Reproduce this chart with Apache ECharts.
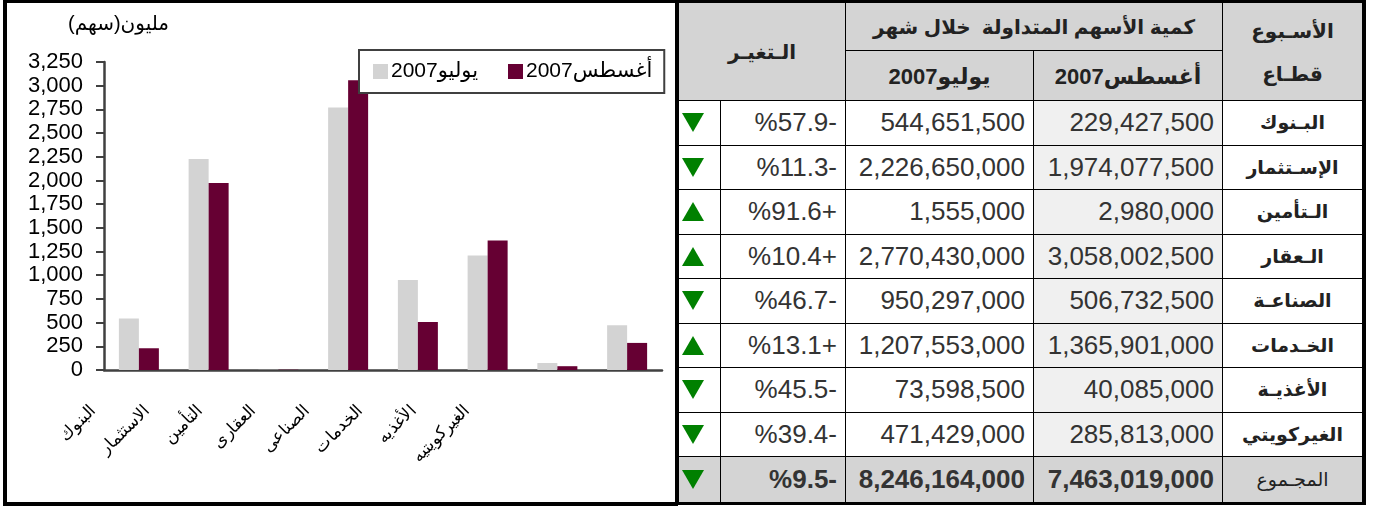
<!DOCTYPE html>
<html>
<head>
<meta charset="utf-8">
<script src="https://cdn.jsdelivr.net/npm/echarts/dist/echarts.min.js"></script>
<style>
  html, body { margin: 0; padding: 0; background: #fff; }
  body { position: relative; width: 1375px; height: 506px; overflow: hidden; font-family: "Liberation Sans", Arial, "DejaVu Sans", sans-serif; }
  #chart { position: absolute; left: 0; top: 0; width: 678px; height: 506px; }
  #frame { position: absolute; left: 3px; top: 0; width: 675px; height: 506px; box-sizing: border-box; border: solid #000; border-width: 3px 3px 4px 4px; pointer-events: none; }
  #tbl { position: absolute; left: 676px; top: 0; display: grid; gap: 1px; background: #000; border: solid #000; border-width: 3px 4px 3px 3px;
         grid-template-columns: 41px 124px 187px 188px 139px;
         grid-template-rows: 47px 49px repeat(8, 43.5px) 45px; }
  #tbl > div { background: #fff; display: flex; align-items: center; justify-content: flex-end; padding: 0 8px 0 0; color: #333; font-size: 26px; direction: ltr; white-space: pre; }
  #tbl > div.hd { background: #d4d4d4; justify-content: center; padding: 0; font-weight: bold; font-size: 20px; color: #222; }
  #tbl > div.hd.yr { font-size: 22px; padding-top: 2px; }
  #tbl > div.aug { background: #f0f0f0; }
  #tbl > div.sec { justify-content: center; padding: 0; font-weight: bold; font-size: 19px; color: #222; }
  #tbl > div.arw { justify-content: flex-start; padding: 0 0 0 3px; }
  #tbl > div.tot { background: #d4d4d4; font-weight: bold; }
  #tbl > div.two { flex-direction: column; justify-content: space-around; padding: 6px 0 4px; }
  .dn { width: 0; height: 0; border-left: 11px solid transparent; border-right: 11px solid transparent; border-top: 19px solid #008000; }
  .up { width: 0; height: 0; border-left: 11px solid transparent; border-right: 11px solid transparent; border-bottom: 19px solid #008000; }
</style>
</head>
<body>
<div id="chart"></div>
<div id="frame"></div>
<div id="tbl"></div>
<script>
// chart categories (x axis) and table sector names
const categories = ['البنوك', 'الاستثمار', 'التأمين', 'العقارى', 'الصناعى', 'الخدمات', 'الأغذيه', 'الغيركويتيه'];
const sectorNames = ['البـنوك', 'الإسـتثمار', 'الـتأمين', 'الـعقار', 'الصناعـة', 'الخـدمات', 'الأغذيـة', 'الغيركويتي'];
const seriesNames = ['يوليو2007', 'أغسطس2007'];

// traded shares per month
const julyShares = [544651500, 2226650000, 1555000, 2770430000, 950297000, 1207553000, 73598500, 471429000];
const augustShares = [229427500, 1974077500, 2980000, 3058002500, 506732500, 1365901000, 40085000, 285813000];
const changePct = [-57.9, -11.3, 91.6, 10.4, -46.7, 13.1, -45.5, -39.4];

const julyTotal = 8246164000;
const augustTotal = 7463019000;
const totalChangePct = -9.5;

const FONT = '"Liberation Sans", Arial, "DejaVu Sans", sans-serif';
const AXIS_COLOR = '#404040';

const fmt = v => v.toLocaleString('en-US');
const fmtPct = p => '%' + Math.abs(p).toFixed(1) + (p < 0 ? '-' : '+');
const toMillions = arr => arr.map(v => v / 1e6);

const chart = echarts.init(document.getElementById('chart'));
chart.setOption({
    animation: false,
    title: {
        text: 'مليون(سهم)',
        left: 63,
        top: 9,
        textStyle: {fontSize: 20, fontWeight: 'normal', color: '#000', fontFamily: FONT}
    },
    legend: {
        data: seriesNames,
        left: 359,
        top: 50,
        padding: [11, 12, 11, 14],
        itemGap: 30,
        itemWidth: 15,
        itemHeight: 15,
        icon: 'rect',
        backgroundColor: '#fff',
        borderColor: AXIS_COLOR,
        borderWidth: 2,
        textStyle: {fontSize: 21, color: '#000', fontFamily: FONT, padding: [0, 0, 0, -2]}
    },
    grid: [
        {left: 104, right: 16, top: 62, bottom: 136},
        {left: 67, width: 427, top: 62, bottom: 136}
    ],
    xAxis: [
        {
            type: 'category',
            data: categories,
            gridIndex: 0,
            axisLine: {lineStyle: {color: AXIS_COLOR, width: 2.5}},
            axisTick: {length: 7, lineStyle: {color: AXIS_COLOR, width: 2}},
            axisLabel: {show: false}
        },
        {
            // separate axis only for the slanted labels
            type: 'category',
            data: categories,
            gridIndex: 1,
            axisLine: {show: false},
            axisTick: {show: false},
            axisLabel: {interval: 0, rotate: 45, margin: 38, fontSize: 17, color: '#000', fontFamily: '"DejaVu Serif", serif'}
        }
    ],
    yAxis: [
        {
            type: 'value',
            gridIndex: 0,
            min: 0,
            max: 3250,
            interval: 250,
            axisLine: {show: true, lineStyle: {color: AXIS_COLOR, width: 2.5}},
            axisTick: {show: true, length: 8, lineStyle: {color: AXIS_COLOR, width: 2}},
            splitLine: {show: false},
            axisLabel: {margin: 21, fontSize: 22, color: '#000', fontFamily: FONT, formatter: v => fmt(v)}
        },
        {type: 'value', gridIndex: 1, show: false}
    ],
    series: [
        {
            name: seriesNames[0],
            type: 'bar',
            data: toMillions(julyShares),
            barWidth: 20,
            barGap: '0%',
            itemStyle: {color: '#d3d3d3'}
        },
        {
            name: seriesNames[1],
            type: 'bar',
            data: toMillions(augustShares),
            barWidth: 20,
            barGap: '0%',
            itemStyle: {color: '#660033'}
        }
    ]
});

// table
const cells = [];
cells.push('<div class="hd" style="grid-column: 1 / 3; grid-row: 1 / 3;">الـتغيـر</div>');
cells.push('<div class="hd" style="grid-column: 3 / 5; grid-row: 1;">كمية الأسهم المتداولة  خلال شهر</div>');
cells.push('<div class="hd two" style="grid-column: 5; grid-row: 1 / 3;"><span>الأسـبوع</span><span>قطـاع</span></div>');
cells.push('<div class="hd yr" style="grid-column: 3; grid-row: 2;">' + seriesNames[0] + '</div>');
cells.push('<div class="hd yr" style="grid-column: 4; grid-row: 2;">' + seriesNames[1] + '</div>');

sectorNames.forEach((name, i) => {
    const arrow = changePct[i] < 0 ? 'dn' : 'up';
    cells.push('<div class="arw"><span class="' + arrow + '"></span></div>');
    cells.push('<div>' + fmtPct(changePct[i]) + '</div>');
    cells.push('<div>' + fmt(julyShares[i]) + '</div>');
    cells.push('<div class="aug">' + fmt(augustShares[i]) + '</div>');
    cells.push('<div class="sec">' + name + '</div>');
});

cells.push('<div class="arw tot"><span class="' + (totalChangePct < 0 ? 'dn' : 'up') + '"></span></div>');
cells.push('<div class="tot">' + fmtPct(totalChangePct) + '</div>');
cells.push('<div class="tot">' + fmt(julyTotal) + '</div>');
cells.push('<div class="tot">' + fmt(augustTotal) + '</div>');
cells.push('<div class="sec tot" style="font-weight: normal;">المجـموع</div>');

document.getElementById('tbl').innerHTML = cells.join('');

window.addEventListener('resize', () => chart.resize());
</script>
</body>
</html>
